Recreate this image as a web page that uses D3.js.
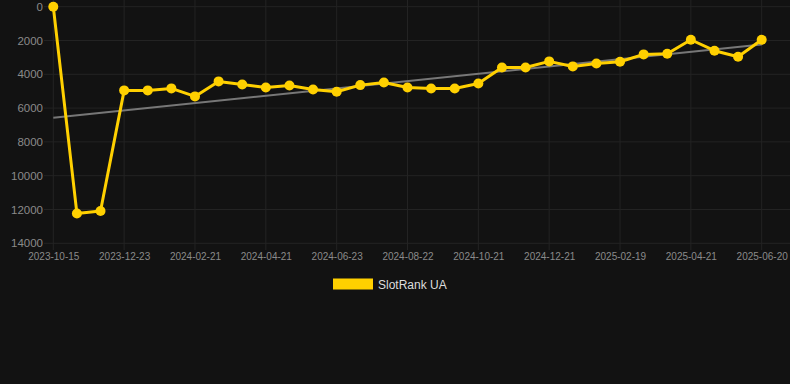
<!DOCTYPE html>
<html>
<head>
<meta charset="utf-8">
<script src="https://cdn.jsdelivr.net/npm/d3@7"></script>
<style>
  body { margin: 0; background: #121212; }
  svg { display: block; font-family: "Liberation Sans", Arial, sans-serif; }
</style>
</head>
<body>
<svg id="canvas"></svg>
<script>
// rank values, one per sample (lower is better, axis is reversed)
const rankValues = [0, 12240, 12086, 4953, 4953, 4834, 5308, 4420, 4600, 4776,
  4660, 4895, 5033, 4640, 4482, 4776, 4836, 4836, 4541, 3593,
  3593, 3237, 3533, 3356, 3257, 2823, 2783, 1955, 2605, 2962, 1955]

// labels shown on every third sample
const tickLabels = ['2023-10-15', '2023-12-23', '2024-02-21', '2024-04-21', '2024-06-23',
  '2024-08-22', '2024-10-21', '2024-12-21', '2025-02-19', '2025-04-21', '2025-06-20']
const yTicks = [0, 2000, 4000, 6000, 8000, 10000, 12000, 14000]
const seriesName = 'SlotRank UA'

let width = 790
let height = 384

const svg = d3.select('#canvas')
  .attr('width', width)
  .attr('height', height)

const xScale = d3.scaleLinear()
  .domain([0, rankValues.length - 1])
  .range([53.3, 761.7])

const yScale = d3.scaleLinear()
  .domain([0, 14000])
  .range([6.7, 243.3])

// grid
svg.append('g')
  .selectAll('line')
  .data(yTicks)
  .enter()
  .append('line')
  .attr('x1', 44)
  .attr('x2', width)
  .attr('y1', d => yScale(d))
  .attr('y2', d => yScale(d))
  .attr('stroke', '#232323')
  .attr('stroke-width', 1)

const tickIdx = tickLabels.map((t, i) => i * 3)

svg.append('g')
  .selectAll('line')
  .data(tickIdx)
  .enter()
  .append('line')
  .attr('x1', d => xScale(d))
  .attr('x2', d => xScale(d))
  .attr('y1', 0)
  .attr('y2', 250)
  .attr('stroke', '#232323')
  .attr('stroke-width', 1)

// y axis labels
const yAxis = d3.axisLeft(yScale)
  .tickValues(yTicks)
  .tickFormat(d3.format('d'))
  .tickSize(0)
  .tickPadding(0)
svg.append('g')
  .attr('transform', 'translate(43, 0)')
  .call(yAxis)
  .call(g => g.select('.domain').remove())
  .selectAll('text')
  .attr('fill', '#8a8a8a')
  .attr('font-size', '11.5px')
  .attr('font-family', '"Liberation Sans", Arial, sans-serif')

// x axis labels
const xAxis = d3.axisBottom(xScale)
  .tickValues(tickIdx)
  .tickFormat((d, i) => tickLabels[i])
  .tickSize(0)
  .tickPadding(0)
svg.append('g')
  .attr('transform', 'translate(0, 253)')
  .call(xAxis)
  .call(g => g.select('.domain').remove())
  .selectAll('text')
  .attr('fill', '#8a8a8a')
  .attr('font-size', '10px')
  .attr('font-family', '"Liberation Sans", Arial, sans-serif')

// linear trend (least squares over the samples)
const n = rankValues.length
const meanX = d3.mean(rankValues, (d, i) => i)
const meanY = d3.mean(rankValues)
let num = 0, den = 0
rankValues.forEach((v, i) => {
  num += (i - meanX) * (v - meanY)
  den += (i - meanX) * (i - meanX)
})
const slope = num / den
const intercept = meanY - slope * meanX

svg.append('line')
  .attr('x1', xScale(0))
  .attr('x2', xScale(n - 1))
  .attr('y1', yScale(intercept))
  .attr('y2', yScale(intercept + slope * (n - 1)))
  .attr('stroke', '#777')
  .attr('stroke-width', 2)

// series line
const line = d3.line()
  .x((d, i) => xScale(i))
  .y(d => yScale(d))

svg.append('path')
  .datum(rankValues)
  .attr('d', line)
  .attr('fill', 'none')
  .attr('stroke', '#ffd000')
  .attr('stroke-width', 3)
  .attr('stroke-linejoin', 'round')

svg.selectAll('circle')
  .data(rankValues)
  .enter()
  .append('circle')
  .attr('cx', (d, i) => xScale(i))
  .attr('cy', d => yScale(d))
  .attr('r', 5)
  .attr('fill', '#ffd000')

// legend
const legend = svg.append('g')
legend.append('rect')
  .attr('x', 333)
  .attr('y', 278.5)
  .attr('width', 40)
  .attr('height', 11)
  .attr('fill', '#ffd000')
legend.append('text')
  .attr('x', 378)
  .attr('y', 289)
  .attr('fill', '#dddddd')
  .attr('font-size', '12px')
  .text(seriesName)
</script>
</body>
</html>
